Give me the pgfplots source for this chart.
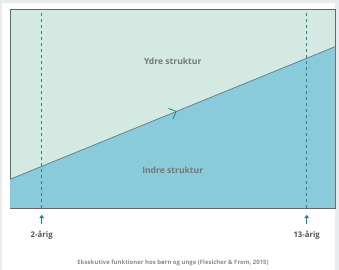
\documentclass[border=0pt]{standalone}
\usepackage{pgfplots}
\pgfplotsset{compat=1.18}
\usepackage{fontspec}
\setmainfont{Open Sans}
\usetikzlibrary{arrows.meta,decorations.markings}
\definecolor{topc}{HTML}{D4E9E2}
\definecolor{botc}{HTML}{89CBDB}
\definecolor{tealc}{HTML}{1B8590}
\definecolor{framec}{HTML}{E9EBEC}
\definecolor{labc}{HTML}{777777}
\definecolor{darklab}{HTML}{555555}
\begin{document}
\begin{tikzpicture}[x=1bp,y=1bp]
\fill[framec] (0,0) rectangle (339,270);
\fill[white] (2,0) rectangle (335,267);
\begin{axis}[
  at={(10bp,62bp)}, anchor=south west,
  scale only axis, width=325bp, height=198.5bp,
  xmin=0.684, xmax=14.175, ymin=0, ymax=1,
  axis background/.style={fill=topc},
  axis line style={draw=black!60, line width=0.9bp},
  xtick=\empty, ytick=\empty,
  clip=false,
]
\addplot[fill=botc, draw=none] coordinates {(0.684,0) (0.684,0.1446) (14.175,0.8126) (14.175,0)} -- cycle;
\addplot[black!55, line width=0.7bp,
  postaction={decorate, decoration={markings, mark=at position 0.513 with {\arrow[tealc, line width=0.8bp]{Straight Barb[length=5.9bp, width=11.7bp]}}}}]
  coordinates {(0.684,0.1446) (14.175,0.8126)};
\addplot[tealc, line width=1.1bp, dash pattern=on 3bp off 3bp] coordinates {(2,0) (2,1)};
\addplot[tealc, line width=1.1bp, dash pattern=on 3bp off 3bp] coordinates {(13,0) (13,1)};
\addplot[tealc, line width=1.2bp, -{Triangle[length=3.5bp, width=4.8bp]}] coordinates {(2,-0.082) (2,-0.034)};
\addplot[tealc, line width=1.2bp, -{Triangle[length=3.5bp, width=4.8bp]}] coordinates {(13,-0.082) (13,-0.034)};
\node[font=\bfseries\fontsize{8.6}{10}\selectfont, text=labc] at (axis cs:7.44,0.74) {Ydre struktur};
\node[font=\bfseries\fontsize{8.6}{10}\selectfont, text=labc] at (axis cs:7.44,0.188) {Indre struktur};
\node[font=\bfseries\fontsize{7.8}{9}\selectfont, text=darklab] at (axis cs:2,-0.138) {2-årig};
\node[font=\bfseries\fontsize{7.8}{9}\selectfont, text=darklab] at (axis cs:13,-0.138) {13-årig};
\end{axis}
\node[font=\bfseries\fontsize{6}{7}\selectfont, text=labc!85] at (173,7) {Eksekutive funktioner hos børn og unge (Flesicher \& From, 2015)};
\end{tikzpicture}
\end{document}
